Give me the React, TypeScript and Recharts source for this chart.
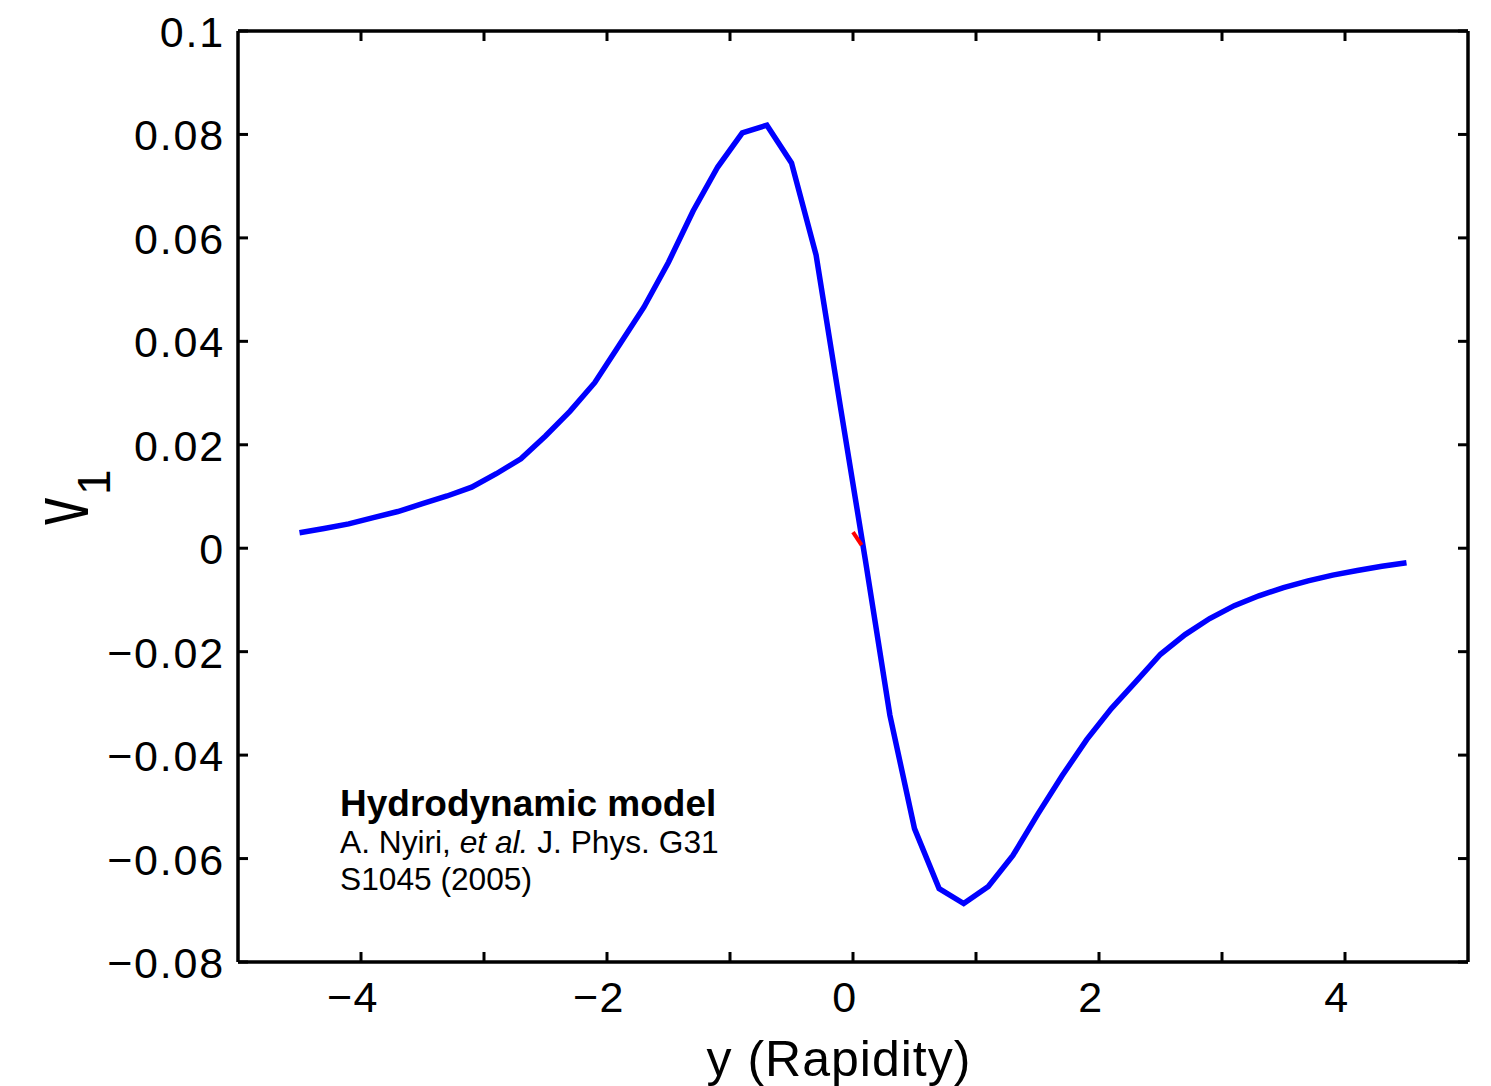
import React from 'react';
import { LineChart, Line, XAxis, YAxis } from 'recharts';

const rapidity = [
  -4.5, -4.3, -4.1, -3.9, -3.7, -3.5, -3.3, -3.1, -2.9, -2.7, -2.5, -2.3,
  -2.1, -1.9, -1.7, -1.5, -1.3, -1.1, -0.9, -0.7, -0.5, -0.3, -0.1, 0.1,
  0.3, 0.5, 0.7, 0.9, 1.1, 1.3, 1.5, 1.7, 1.9, 2.1, 2.3, 2.5, 2.7, 2.9,
  3.1, 3.3, 3.5, 3.7, 3.9, 4.1, 4.3, 4.5,
];
const v1Values = [
  0.003, 0.0038, 0.0047, 0.0059, 0.0071, 0.0086, 0.0101, 0.0118, 0.0144, 0.0173, 0.0217, 0.0265,
  0.032, 0.0393, 0.0466, 0.0553, 0.0652, 0.0737, 0.0803, 0.0818, 0.0745, 0.0567, 0.027, -0.0022,
  -0.0323, -0.0542, -0.0658, -0.0687, -0.0654, -0.0594, -0.0515, -0.044, -0.037, -0.031, -0.0258, -0.0205,
  -0.0167, -0.0136, -0.0111, -0.0092, -0.0076, -0.0063, -0.0052, -0.0043, -0.0035, -0.0028,
];
const redX = [0.0, 0.07];
const redY = [0.0031, 0.0006];

const xTicks = [-4, -3, -2, -1, 0, 1, 2, 3, 4];
const xTickLabels = ['\u22124', '', '\u22122', '', '0', '', '2', '', '4'];
const yTicks = [-0.08, -0.06, -0.04, -0.02, 0, 0.02, 0.04, 0.06, 0.08, 0.1];
const yTickLabels = ['\u22120.08', '\u22120.06', '\u22120.04', '\u22120.02', '0', '0.02', '0.04', '0.06', '0.08', '0.1'];

const blueData = rapidity.map((x, i) => ({ x, v1: v1Values[i] }));
const redData = redX.map((x, i) => ({ x, red: redY[i] }));

const FONT = '"Liberation Sans", Arial, Helvetica, sans-serif';
const TICK_LEN = 10;
const AXIS_W = 3.5;

const BottomTick = (props: any) => {
  const { x, y, index } = props;
  const label = xTickLabels[index] ?? '';
  return (
    <g>
      <line x1={x} x2={x} y1={y} y2={y - TICK_LEN} stroke="#000" strokeWidth={3} />
      {label && (
        <text
          x={x - 8}
          y={y + 50}
          textAnchor="middle"
          fontSize={43}
          letterSpacing={1.5}
          fontFamily={FONT}
          fill="#000"
        >
          {label}
        </text>
      )}
    </g>
  );
};

const TopTick = (props: any) => {
  const { x, y } = props;
  return <line x1={x} x2={x} y1={y} y2={y + TICK_LEN} stroke="#000" strokeWidth={3} />;
};

const LeftTick = (props: any) => {
  const { x, y, index } = props;
  const label = yTickLabels[index] ?? '';
  return (
    <g>
      <line x1={x} x2={x + TICK_LEN} y1={y} y2={y} stroke="#000" strokeWidth={3} />
      <text
        x={x - 13}
        y={y + 16}
        textAnchor="end"
        fontSize={43}
        letterSpacing={1.8}
        fontFamily={FONT}
        fill="#000"
      >
        {label}
      </text>
    </g>
  );
};

const RightTick = (props: any) => {
  const { x, y } = props;
  return <line x1={x} x2={x - TICK_LEN} y1={y} y2={y} stroke="#000" strokeWidth={3} />;
};

export default function App() {
  const W = 1491;
  const H = 1086;
  return (
    <div style={{ position: 'absolute', left: 0, top: 0, width: W, height: H, background: '#fff' }}>
      <LineChart
        width={W}
        height={H}
        data={blueData}
        margin={{ top: 30, right: 22, bottom: 94, left: 178 }}
      >
        <XAxis
          xAxisId="bottom"
          dataKey="x"
          type="number"
          domain={[-5, 5]}
          ticks={xTicks}
          interval={0}
          orientation="bottom"
          height={30}
          tickSize={0}
          tickMargin={0}
          tickLine={false}
          axisLine={{ stroke: '#000', strokeWidth: AXIS_W }}
          tick={<BottomTick />}
          allowDataOverflow
        />
        <XAxis
          xAxisId="top"
          dataKey="x"
          type="number"
          domain={[-5, 5]}
          ticks={xTicks}
          interval={0}
          orientation="top"
          height={1}
          tickSize={0}
          tickMargin={0}
          tickLine={false}
          axisLine={{ stroke: '#000', strokeWidth: AXIS_W }}
          tick={<TopTick />}
          allowDataOverflow
        />
        <YAxis
          yAxisId="left"
          type="number"
          domain={[-0.08, 0.1]}
          ticks={yTicks}
          interval={0}
          orientation="left"
          width={60}
          tickSize={0}
          tickMargin={0}
          tickLine={false}
          axisLine={{ stroke: '#000', strokeWidth: AXIS_W }}
          tick={<LeftTick />}
          allowDataOverflow
        />
        <YAxis
          yAxisId="right"
          type="number"
          domain={[-0.08, 0.1]}
          ticks={yTicks}
          interval={0}
          orientation="right"
          width={1}
          tickSize={0}
          tickMargin={0}
          tickLine={false}
          axisLine={{ stroke: '#000', strokeWidth: AXIS_W }}
          tick={<RightTick />}
          allowDataOverflow
        />
        <Line
          xAxisId="bottom"
          yAxisId="left"
          dataKey="v1"
          type="linear"
          stroke="#0000ff"
          strokeWidth={5.5}
          dot={false}
          activeDot={false}
          isAnimationActive={false}
        />
        <Line
          xAxisId="bottom"
          yAxisId="left"
          data={redData}
          dataKey="red"
          type="linear"
          stroke="#ff0000"
          strokeWidth={4}
          dot={false}
          activeDot={false}
          isAnimationActive={false}
        />
      </LineChart>
      <svg
        width={W}
        height={H}
        style={{ position: 'absolute', left: 0, top: 0, pointerEvents: 'none' }}
      >
        <text
          x={839}
          y={1076}
          textAnchor="middle"
          fontSize={50}
          letterSpacing={1}
          fontFamily={FONT}
          fill="#000"
        >
          y (Rapidity)
        </text>
        <text
          transform="translate(88,525) rotate(-90) scale(0.66,1)"
          fontSize={82}
          fontFamily={FONT}
          fill="#000"
        >
          v
        </text>
        <text transform="translate(110,495) rotate(-90)" fontSize={46} fontFamily={FONT} fill="#000">
          1
        </text>
        <text x={340} y={816} fontSize={37} fontWeight="bold" fontFamily={FONT} fill="#000">
          Hydrodynamic model
        </text>
        <text x={340} y={853} fontSize={31.7} fontFamily={FONT} fill="#000">
          A. Nyiri, <tspan fontStyle="italic">et al.</tspan> J. Phys. G31
        </text>
        <text x={340} y={890} fontSize={31.7} fontFamily={FONT} fill="#000">
          S1045 (2005)
        </text>
      </svg>
    </div>
  );
}
